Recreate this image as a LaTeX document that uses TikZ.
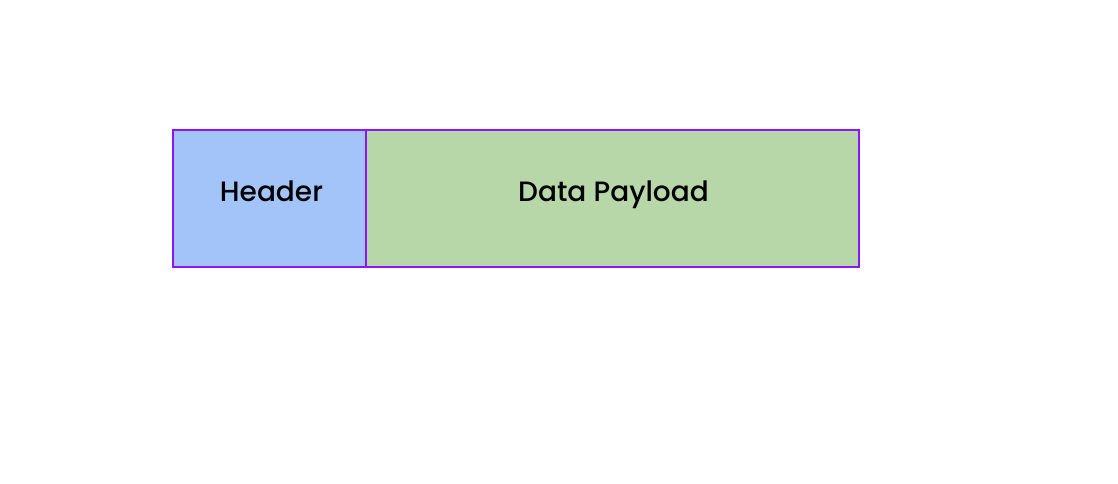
\documentclass[tikz,border=0pt]{standalone}
\usepackage{fontspec}
\setmainfont{Poppins}
\newfontfamily\medfont{Poppins Medium}
\definecolor{hdrfill}{HTML}{A2C4F8}
\definecolor{datafill}{HTML}{B7D7A8}
\definecolor{edge}{HTML}{9013FE}
\begin{document}
\begin{tikzpicture}[x=1pt,y=-1pt,
  field/.style={draw=edge,line width=2.5pt,inner sep=0pt,outer sep=0pt,anchor=north west,font=\medfont\fontsize{28}{32}\selectfont},
]
\useasboundingbox (0,0) rectangle (1118,484);
\node[field,fill=hdrfill,minimum width=193pt,minimum height=137pt] (hdr) at (173,130) {\raisebox{14pt}{\hspace{4pt}Header}};
\node[field,fill=datafill,minimum width=493pt,minimum height=137pt] (data) at (366,130) {\raisebox{14pt}{\hspace{2pt}Data Payload}};
\end{tikzpicture}
\end{document}
